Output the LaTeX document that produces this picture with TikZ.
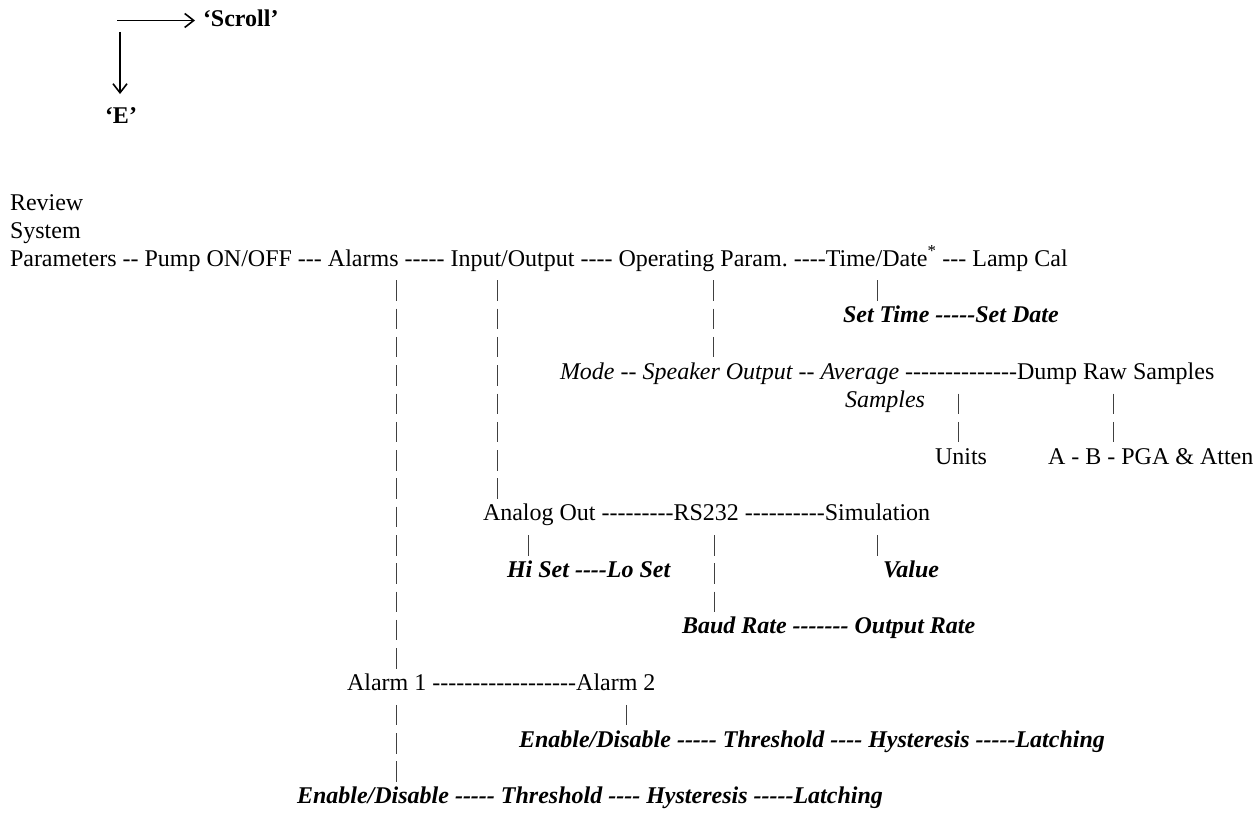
\documentclass[tikz,border=0pt]{standalone}
\usepackage{fontspec}
\setmainfont{Liberation Serif}[Ligatures=TeXOff]
\usetikzlibrary{arrows.meta, calc}

\begin{document}
\begin{tikzpicture}[
  x=1pt, y=1pt,
  txt/.style={anchor=base west, inner sep=0pt, outer sep=0pt,
              font=\fontsize{24}{28.3}\selectfont},
  it/.style={txt, font=\fontsize{24}{28.3}\selectfont\itshape},
  bi/.style={txt, font=\fontsize{24}{28.3}\selectfont\bfseries\itshape},
  key/.style={txt, font=\fontsize{24}{28.3}\selectfont\bfseries},
  vlink/.style={draw=black!75, line width=1pt, dash pattern=on 20.5pt off 7.8pt},
  arr/.style={-{Straight Barb[length=9pt, width=14pt, line width=1.6pt]}, line width=1.8pt}
]
\useasboundingbox (0,0) rectangle (1259,-813);
% key: how to move through the menu
\node[key] (scroll) at (203,-27) {‘Scroll’};
\node[key] (enter)  at (105,-124) {‘E’};
\coordinate (hstart) at (117,-20.5);
\coordinate (vstart) at (120,-32);
\draw[arr] (hstart) -- ($(scroll.west |- hstart)+(-8,0)$);
\draw[arr] (vstart) -- ($(vstart |- enter.north)+(0,14)$);
% top level of the menu
\node[txt] (review) at (10,-211) {Review};
\node[txt] (system) at (10,-238.5) {System};
\node[txt] (params)   at (10,-266) {Parameters};
\node[txt] (pump)     at (params.base east) {~--~Pump ON/OFF};
\node[txt] (alarms)   at (pump.base east) {~---~Alarms};
\node[txt] (inout)    at (alarms.base east) {~-----~Input/Output};
\node[txt] (oppar)    at (inout.base east) {~----~Operating Param.};
\node[txt] (timedate) at (oppar.base east) {~----Time/Date\textsuperscript{*}};
\node[txt] (lamp)     at (timedate.base east) {~---~Lamp Cal};
% time/date
\node[bi] (settime) at (843,-322.6) {Set Time};
\node[bi] (setdate) at (settime.base east) {~-----Set Date};
% operating parameters
\node[it]  (mode)    at (560,-379.2) {Mode};
\node[it]  (speaker) at (mode.base east) {~--~Speaker Output};
\node[it]  (average) at (speaker.base east) {~--~Average};
\node[txt] (dump)    at (average.base east) {~--------------Dump Raw Samples};
\node[it]  (samples) at (845,-407.5) {Samples};
\node[txt] (units)   at (935,-464.1) {Units};
\node[txt] (ab)      at (1048,-464.1) {A - B - PGA \& Atten};
% input/output
\node[txt] (analog) at (483,-520.7) {Analog Out};
\node[txt] (rs)     at (analog.base east) {~---------RS232};
\node[txt] (sim)    at (rs.base east) {~----------Simulation};
\node[bi]  (hiset)  at (507,-577.3) {Hi Set};
\node[bi]  (loset)  at (hiset.base east) {~----Lo Set};
\node[bi]  (value)  at (883,-577.3) {Value};
\node[bi]  (baud)   at (682,-633.9) {Baud Rate};
\node[bi]  (outrate) at (baud.base east) {~-------~Output Rate};
% alarms
\node[txt] (alarm1) at (347,-690.5) {Alarm 1};
\node[txt] (alarm2) at (alarm1.base east) {~------------------Alarm 2};
\node[bi] (enable2) at (519,-747.1) {Enable/Disable};
\node[bi] (thresh2) at (enable2.base east) {~-----~Threshold};
\node[bi] (hyst2)   at (thresh2.base east) {~----~Hysteresis};
\node[bi] (latch2)  at (hyst2.base east) {~-----Latching};
\node[bi] (enable1) at (297,-803.7) {Enable/Disable};
\node[bi] (thresh1) at (enable1.base east) {~-----~Threshold};
\node[bi] (hyst1)   at (thresh1.base east) {~----~Hysteresis};
\node[bi] (latch1)  at (hyst1.base east) {~-----Latching};
% columns of the vertical links
\coordinate (xal) at (396,0);
\coordinate (xio) at (497,0);
\coordinate (xop) at (713,0);
\coordinate (xtd) at (877,0);
\coordinate (xav) at (958,0);
\coordinate (xdu) at (1113,0);
\coordinate (xan) at (528,0);
\coordinate (xrs) at (714,0);
\coordinate (xsi) at (877,0);
\coordinate (xa2) at (626,0);
\foreach \a/\b/\c in {alarms/alarm1/xal, inout/analog/xio, oppar/mode/xop,
                      timedate/settime/xtd, average/units/xav, dump/ab/xdu,
                      analog/hiset/xan, rs/baud/xrs, sim/value/xsi,
                      alarm1/enable1/xal, alarm2/enable2/xa2}
  \draw[vlink] ($(\a.base -| \c)+(0,-14.3)$) -- ($(\b.base -| \c)+(0,21.8)$);
\end{tikzpicture}
\end{document}
